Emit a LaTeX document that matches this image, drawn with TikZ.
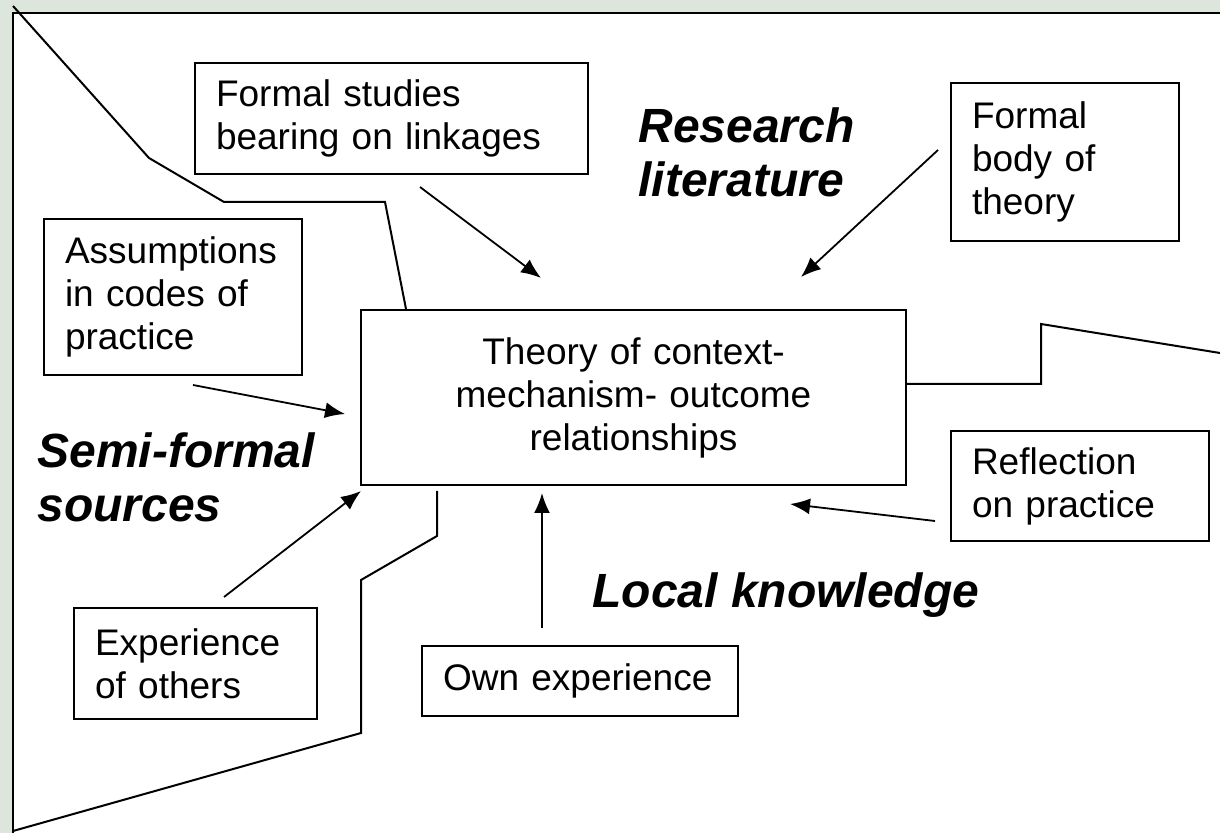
\documentclass[tikz,border=0pt]{standalone}
\usepackage{fontspec}
\setmainfont{Liberation Sans}
\usetikzlibrary{arrows.meta}
\definecolor{bgreen}{RGB}{221,230,220}
\begin{document}
\begin{tikzpicture}[x=0.5pt,y=-0.5pt,
  box/.style={draw, line width=1pt, anchor=north west, align=left, inner xsep=10.5pt, inner ysep=0pt, font=\fontsize{18.5pt}{21.5pt}\selectfont},
  lbl/.style={anchor=north west, align=left, inner sep=0pt, font=\fontsize{24pt}{27pt}\selectfont\bfseries\itshape},
  wire/.style={line width=1pt},
  arr/.style={line width=0.9pt, -{Latex[length=10pt,width=8pt]}}]
\useasboundingbox (0,0) rectangle (1220,833);
\fill[bgreen] (0,0) rectangle (1220,833);
\fill[white] (13,13) rectangle (1220,833);
\draw[wire] (13,833) -- (13,13) -- (1220,13);

% boxes
\node[box, text width=251.5pt, minimum height=87.5pt, align=center] (c) at (360,309) {Theory of context-\\mechanism- outcome\\relationships};
\node[box, text width=175.5pt, minimum height=55.5pt] (fs) at (194,62) {Formal studies\\bearing on linkages};
\node[box, text width=93pt, minimum height=79pt] (fb) at (950,82) {Formal\\body of\\theory};
\node[box, text width=108pt, minimum height=78pt] (as) at (43,218) {Assumptions\\in codes of\\practice};
\node[box, text width=108pt, minimum height=55pt] (rf) at (950,430) {Reflection\\on practice};
\node[box, text width=100.5pt, minimum height=55.5pt] (eo) at (73,607) {Experience\\of others};
\node[box, text width=137pt, minimum height=35pt] (ow) at (421,645) {Own experience};

% labels
\node[lbl] (rl) at (638,107) {Research\\literature};
\node[lbl] (sf) at (37,432) {Semi-formal\\sources};
\node[lbl] (lk) at (592,572) {Local knowledge};

% boundary polylines
\coordinate (a0) at (13,6);
\coordinate (a1) at (149,158);
\coordinate (a2) at (224,202);
\coordinate (a3) at (385,202);
\coordinate (a4) at (406,309);
\draw[wire] (a0) -- (a1) -- (a2) -- (a3) -- (a4);

\coordinate (b0) at (905,384);
\coordinate (b1) at (1041,384);
\coordinate (b2) at (1041,324);
\coordinate (b3) at (1220,353);
\draw[wire] (b0) -- (b1) -- (b2) -- (b3);

\coordinate (d0) at (437,491);
\coordinate (d1) at (437,536);
\coordinate (d2) at (361,580);
\coordinate (d3) at (361,733);
\coordinate (d4) at (13,831);
\draw[wire] (d0) -- (d1) -- (d2) -- (d3) -- (d4);

% arrows
\coordinate (fsT) at (420,187);  \coordinate (fsH) at (541,278);
\coordinate (fbT) at (938,150);  \coordinate (fbH) at (801,277);
\coordinate (asT) at (193,385);  \coordinate (asH) at (345,414);
\coordinate (eoT) at (224,597);  \coordinate (eoH) at (361,491);
\coordinate (owT) at (542,628);  \coordinate (owH) at (542,493);
\coordinate (rfT) at (935,521);  \coordinate (rfH) at (790,504);
\draw[arr] (fsT) -- (fsH);
\draw[arr] (fbT) -- (fbH);
\draw[arr] (asT) -- (asH);
\draw[arr] (eoT) -- (eoH);
\draw[arr] (owT) -- (owH);
\draw[arr] (rfT) -- (rfH);
\end{tikzpicture}
\end{document}
